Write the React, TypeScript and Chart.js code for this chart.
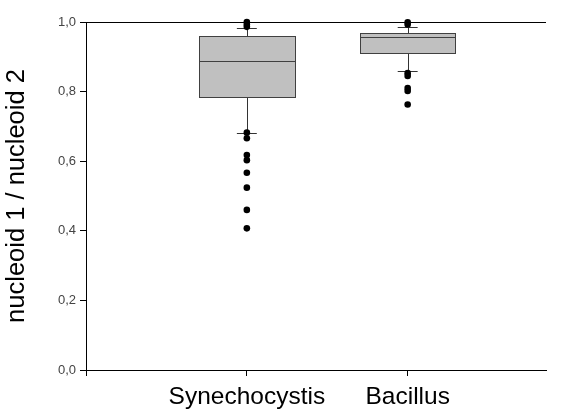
import React, { useEffect, useRef } from "react";
import { Chart, registerables } from "chart.js";
Chart.register(...registerables);

const categories = ["Synechocystis", "Bacillus"];
const positions = [1, 2];
const q1 = [0.784, 0.91];
const median = [0.888, 0.956];
const q3 = [0.96, 0.968];
const whiskerLow = [0.682, 0.859];
const whiskerHigh = [0.983, 0.987];
const outliersSyn = [1.0, 0.993, 0.986, 0.682, 0.666, 0.618, 0.603, 0.567, 0.524, 0.46, 0.407];
const outliersBac = [0.999, 0.993, 0.853, 0.845, 0.81, 0.802, 0.763];
const yTicks = [0, 0.2, 0.4, 0.6, 0.8, 1.0];
const xTicks = [0, 1, 2];
const yTitle = "nucleoid 1 / nucleoid 2";

const BOX_HALF = 0.297;
const CAP_HALF = 0.062;
const FONT = "'Liberation Sans', Arial, sans-serif";

const boxPlugin = {
  id: "boxes",
  beforeDatasetsDraw(chart: any) {
    const xs = chart.scales.x;
    const ys = chart.scales.y;
    const ctx = chart.ctx as CanvasRenderingContext2D;
    const area = chart.chartArea;
    ctx.save();
    ctx.lineWidth = 1;
    ctx.strokeStyle = "#000";
    const top = Math.round(ys.getPixelForValue(1)) + 0.5;
    ctx.beginPath();
    ctx.moveTo(area.left, top);
    ctx.lineTo(area.right, top);
    ctx.stroke();
    for (let i = 0; i < positions.length; i++) {
      const cx = Math.round(xs.getPixelForValue(positions[i])) + 0.5;
      const bl = Math.round(xs.getPixelForValue(positions[i] - BOX_HALF)) + 0.5;
      const br = Math.round(xs.getPixelForValue(positions[i] + BOX_HALF)) + 0.5;
      const cl = xs.getPixelForValue(positions[i] - CAP_HALF);
      const cr = xs.getPixelForValue(positions[i] + CAP_HALF);
      const yq1 = Math.round(ys.getPixelForValue(q1[i])) + 0.5;
      const yq3 = Math.round(ys.getPixelForValue(q3[i])) + 0.5;
      const ymed = Math.round(ys.getPixelForValue(median[i])) + 0.5;
      const ylo = Math.round(ys.getPixelForValue(whiskerLow[i])) + 0.5;
      const yhi = Math.round(ys.getPixelForValue(whiskerHigh[i])) + 0.5;
      ctx.strokeStyle = "#333";
      ctx.beginPath();
      ctx.moveTo(cx, yhi);
      ctx.lineTo(cx, yq3);
      ctx.moveTo(cx, yq1);
      ctx.lineTo(cx, ylo);
      ctx.moveTo(cl, yhi);
      ctx.lineTo(cr, yhi);
      ctx.moveTo(cl, ylo);
      ctx.lineTo(cr, ylo);
      ctx.stroke();
      ctx.fillStyle = "#c0c0c0";
      ctx.fillRect(bl, yq3, br - bl, yq1 - yq3);
      ctx.strokeStyle = "#404040";
      ctx.strokeRect(bl, yq3, br - bl, yq1 - yq3);
      ctx.beginPath();
      ctx.moveTo(bl, ymed);
      ctx.lineTo(br, ymed);
      ctx.stroke();
    }
    ctx.restore();
  },
};

export default function App() {
  const ref = useRef<HTMLCanvasElement>(null);
  useEffect(() => {
    if (!ref.current) return;
    const chart = new Chart(ref.current, {
      type: "scatter",
      data: {
        datasets: [
          {
            label: categories[0],
            data: outliersSyn.map((v) => ({ x: positions[0], y: v })),
            backgroundColor: "#000",
            borderColor: "#000",
            pointRadius: 3.3,
            borderWidth: 0,
            clip: false,
          },
          {
            label: categories[1],
            data: outliersBac.map((v) => ({ x: positions[1], y: v })),
            backgroundColor: "#000",
            borderColor: "#000",
            pointRadius: 3.3,
            borderWidth: 0,
            clip: false,
          },
        ],
      },
      options: {
        animation: false,
        responsive: true,
        maintainAspectRatio: false,
        layout: { padding: { top: 22, right: 18, left: 0, bottom: 0 } },
        plugins: { legend: { display: false }, tooltip: { enabled: false } },
        scales: {
          x: {
            type: "linear",
            min: 0,
            max: 2.86,
            afterBuildTicks: (s: any) => {
              s.ticks = xTicks.map((v) => ({ value: v }));
            },
            afterFit: (s: any) => {
              s.height = 48;
            },
            ticks: {
              autoSkip: false,
              maxRotation: 0,
              color: "#000",
              padding: 7,
              font: { family: FONT, size: 24.5 },
              callback: (v: any) => categories[positions.indexOf(Number(v))] ?? "",
            },
            grid: { drawOnChartArea: false, tickLength: 6, color: "#000" },
            border: { color: "#000" },
          },
          y: {
            min: 0,
            max: 1,
            afterBuildTicks: (s: any) => {
              s.ticks = yTicks.map((v) => ({ value: v }));
            },
            afterFit: (s: any) => {
              s.width = 86;
            },
            ticks: {
              color: "#444",
              padding: 4,
              font: { family: FONT, size: 13 },
              callback: (v: any) => Number(v).toFixed(1).replace(".", ","),
            },
            grid: { drawOnChartArea: false, tickLength: 6, color: "#000" },
            border: { color: "#000" },
            title: {
              display: true,
              text: yTitle,
              color: "#000",
              font: { family: FONT, size: 25.5 },
              padding: { top: 2, bottom: 0 },
            },
          },
        },
      },
      plugins: [boxPlugin],
    });
    return () => chart.destroy();
  }, []);
  return (
    <div style={{ position: "fixed", left: 0, top: 0, width: 564, height: 418, background: "#fff" }}>
      <canvas ref={ref} />
    </div>
  );
}
